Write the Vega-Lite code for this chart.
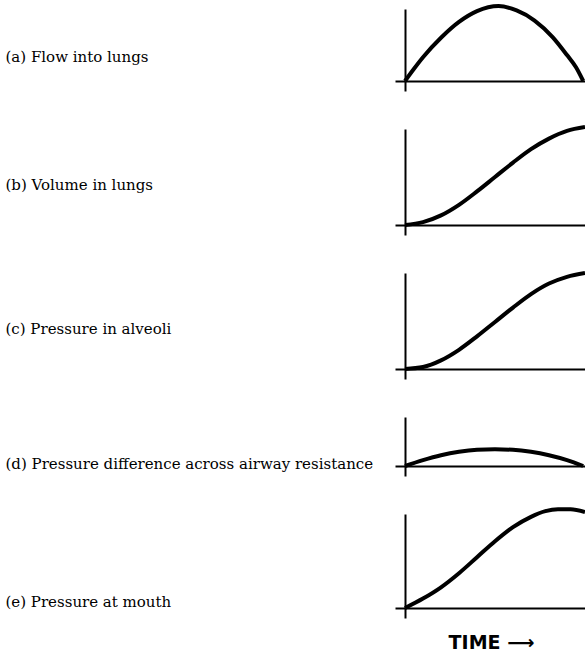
{
  "$schema": "https://vega.github.io/schema/vega-lite/v6.json",
  "padding": {"left": 5, "top": -2, "right": 0, "bottom": 0},
  "background": "white",
  "bounds": "flush",
  "spacing": 48,
  "config": {
    "view": {"stroke": null},
    "axis": {
      "domainColor": "black", "domainWidth": 2, "tickColor": "black", "tickWidth": 2,
      "tickSize": 10, "labels": false, "grid": false,
      "titleFont": "DejaVu Serif", "titleFontSize": 15, "titleFontWeight": "normal", "titleColor": "black"
    },
    "line": {"color": "black", "strokeWidth": 4, "clip": false, "interpolate": "monotone"}
  },
  "datasets": {
    "a": [
      {"t": 0, "v": 0}, {"t": 0.05, "v": 0.17}, {"t": 0.1, "v": 0.33}, {"t": 0.2, "v": 0.6},
      {"t": 0.3, "v": 0.82}, {"t": 0.4, "v": 0.97}, {"t": 0.52, "v": 1.04}, {"t": 0.62, "v": 0.98},
      {"t": 0.72, "v": 0.84}, {"t": 0.82, "v": 0.61}, {"t": 0.9, "v": 0.36}, {"t": 0.95, "v": 0.19}, {"t": 0.99, "v": 0}
    ],
    "b": [
      {"t": 0, "v": 0}, {"t": 0.1, "v": 0.03}, {"t": 0.2, "v": 0.1}, {"t": 0.3, "v": 0.21},
      {"t": 0.4, "v": 0.35}, {"t": 0.5, "v": 0.5}, {"t": 0.6, "v": 0.65}, {"t": 0.7, "v": 0.79},
      {"t": 0.8, "v": 0.9}, {"t": 0.9, "v": 0.98}, {"t": 1.0, "v": 1.02}
    ],
    "c": [
      {"t": 0, "v": 0}, {"t": 0.1, "v": 0.02}, {"t": 0.2, "v": 0.09}, {"t": 0.3, "v": 0.2},
      {"t": 0.4, "v": 0.34}, {"t": 0.5, "v": 0.49}, {"t": 0.6, "v": 0.64}, {"t": 0.7, "v": 0.78},
      {"t": 0.8, "v": 0.89}, {"t": 0.9, "v": 0.96}, {"t": 1.0, "v": 1.0}
    ],
    "d": [
      {"t": 0, "v": 0}, {"t": 0.1, "v": 0.12}, {"t": 0.2, "v": 0.22}, {"t": 0.3, "v": 0.29},
      {"t": 0.4, "v": 0.33}, {"t": 0.5, "v": 0.34}, {"t": 0.6, "v": 0.33}, {"t": 0.7, "v": 0.29},
      {"t": 0.8, "v": 0.22}, {"t": 0.9, "v": 0.12}, {"t": 0.99, "v": 0}
    ],
    "e": [
      {"t": 0, "v": 0}, {"t": 0.1, "v": 0.1}, {"t": 0.2, "v": 0.22}, {"t": 0.3, "v": 0.37},
      {"t": 0.4, "v": 0.54}, {"t": 0.5, "v": 0.71}, {"t": 0.6, "v": 0.86}, {"t": 0.7, "v": 0.97},
      {"t": 0.78, "v": 1.03}, {"t": 0.85, "v": 1.05}, {"t": 0.92, "v": 1.05}, {"t": 1.0, "v": 1.02}
    ]
  },
  "vconcat": [
    {
      "width": 180, "height": 72,
      "data": {"name": "a"},
      "mark": "line",
      "encoding": {
        "x": {"field": "t", "type": "quantitative", "scale": {"domain": [0, 1]}, "axis": {"title": null, "values": [0]}},
        "y": {"field": "v", "type": "quantitative", "scale": {"domain": [0, 1]},
              "axis": {"values": [0], "title": "(a) Flow into lungs", "titleAngle": 0, "titleAlign": "left", "titleBaseline": "middle", "titleX": -400, "titleY": 47}}
      }
    },
    {
      "width": 180, "height": 96,
      "data": {"name": "b"},
      "mark": "line",
      "encoding": {
        "x": {"field": "t", "type": "quantitative", "scale": {"domain": [0, 1]}, "axis": {"title": null, "values": [0]}},
        "y": {"field": "v", "type": "quantitative", "scale": {"domain": [0, 1]},
              "axis": {"values": [0], "title": "(b) Volume in lungs", "titleAngle": 0, "titleAlign": "left", "titleBaseline": "middle", "titleX": -400, "titleY": 55}}
      }
    },
    {
      "width": 180, "height": 96,
      "data": {"name": "c"},
      "mark": "line",
      "encoding": {
        "x": {"field": "t", "type": "quantitative", "scale": {"domain": [0, 1]}, "axis": {"title": null, "values": [0]}},
        "y": {"field": "v", "type": "quantitative", "scale": {"domain": [0, 1]},
              "axis": {"values": [0], "title": "(c) Pressure in alveoli", "titleAngle": 0, "titleAlign": "left", "titleBaseline": "middle", "titleX": -400, "titleY": 55}}
      }
    },
    {
      "width": 180, "height": 49,
      "data": {"name": "d"},
      "mark": "line",
      "encoding": {
        "x": {"field": "t", "type": "quantitative", "scale": {"domain": [0, 1]}, "axis": {"title": null, "values": [0]}},
        "y": {"field": "v", "type": "quantitative", "scale": {"domain": [0, 1]},
              "axis": {"values": [0], "title": "(d) Pressure difference across airway resistance", "titleAngle": 0, "titleAlign": "left", "titleBaseline": "middle", "titleX": -400, "titleY": 46}}
      }
    },
    {
      "width": 180, "height": 94,
      "data": {"name": "e"},
      "mark": "line",
      "encoding": {
        "x": {"field": "t", "type": "quantitative", "scale": {"domain": [0, 1]},
              "axis": {"values": [0], "title": "TIME\u00a0⟶", "titleFont": "DejaVu Sans", "titleFontSize": 19, "titleFontWeight": "bold", "titleAlign": "center", "titleBaseline": "middle", "titleX": 86, "titleY": 34}},
        "y": {"field": "v", "type": "quantitative", "scale": {"domain": [0, 1]},
              "axis": {"values": [0], "title": "(e) Pressure at mouth", "titleAngle": 0, "titleAlign": "left", "titleBaseline": "middle", "titleX": -400, "titleY": 87}}
      }
    }
  ]
}
